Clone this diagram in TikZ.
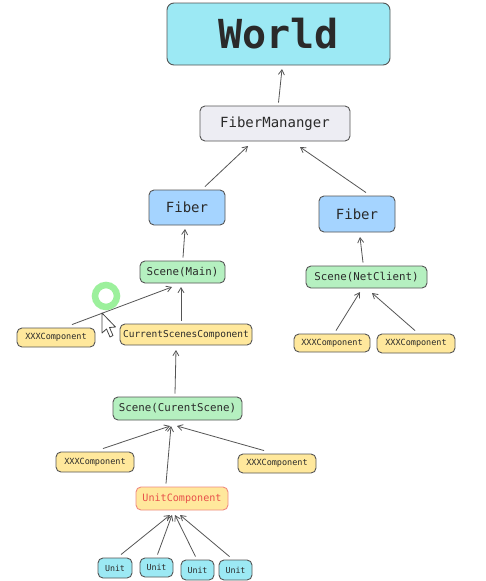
\documentclass[tikz,border=0pt]{standalone}
\usepackage{fontspec}
\setmonofont{DejaVu Sans Mono}
\usetikzlibrary{arrows.meta}
\definecolor{cy}{HTML}{9CE9F4}
\definecolor{bl}{HTML}{A5D4FF}
\definecolor{gr}{HTML}{B5F0C0}
\definecolor{ye}{HTML}{FFE89C}
\definecolor{gy}{HTML}{EDEDF3}
\definecolor{ln}{HTML}{555555}
\definecolor{rd}{HTML}{E8504A}
\definecolor{rdb}{HTML}{F08A80}
\definecolor{tx}{HTML}{2A2A2A}
\definecolor{ring}{HTML}{9CF09C}
\tikzset{
  box/.style={draw=ln, line width=0.9pt, rounded corners=5pt, inner sep=0pt, text=tx, font=\ttfamily},
  conn/.style={draw=ln, line width=0.8pt, -{Straight Barb[length=5pt,width=6pt]}},
}
\begin{document}
\begin{tikzpicture}[x=1pt,y=-1pt]
\useasboundingbox (0,0) rectangle (485,581);
\fill[white] (0,0) rectangle (485,581);
% nodes
\node[box, fill=cy, minimum width=223pt, minimum height=62pt, rounded corners=7pt, font=\ttfamily\bfseries\fontsize{40}{40}\selectfont] (world) at (278.5,34) {World};
\node[box, fill=gy, minimum width=150pt, minimum height=35pt, font=\ttfamily\fontsize{14}{14}\selectfont] (fm) at (275,123.5) {FiberMananger};
\node[box, fill=bl, minimum width=76pt, minimum height=35pt, font=\ttfamily\fontsize{14}{14}\selectfont] (fl) at (187,207.5) {Fiber};
\node[box, fill=bl, minimum width=76pt, minimum height=36pt, font=\ttfamily\fontsize{14}{14}\selectfont] (fr) at (357,214) {Fiber};
\node[box, fill=gr, minimum width=85pt, minimum height=22pt, font=\ttfamily\fontsize{10.8}{11}\selectfont] (sm) at (182.5,272) {Scene(Main)};
\node[box, fill=gr, minimum width=121pt, minimum height=22pt, font=\ttfamily\fontsize{10.8}{11}\selectfont] (sn) at (366.5,277) {Scene(NetClient)};
\node[box, fill=ye, minimum width=78pt, minimum height=19pt, font=\ttfamily\fontsize{8.5}{9}\selectfont] (x1) at (56,337.5) {XXXComponent};
\node[box, fill=ye, minimum width=132pt, minimum height=21pt, font=\ttfamily\fontsize{9.5}{10}\selectfont] (csc) at (186,334.5) {CurrentScenesComponent};
\node[box, fill=ye, minimum width=76pt, minimum height=18pt, font=\ttfamily\fontsize{8.5}{9}\selectfont] (x2) at (332,343) {XXXComponent};
\node[box, fill=ye, minimum width=78pt, minimum height=19pt, font=\ttfamily\fontsize{8.5}{9}\selectfont] (x3) at (416,343.5) {XXXComponent};
\node[box, fill=gr, minimum width=129pt, minimum height=23pt, font=\ttfamily\fontsize{10.8}{11}\selectfont] (scs) at (177.5,408.5) {Scene(CurentScene)};
\node[box, fill=ye, minimum width=78pt, minimum height=20pt, font=\ttfamily\fontsize{8.5}{9}\selectfont] (x4) at (95,462) {XXXComponent};
\node[box, fill=ye, minimum width=78pt, minimum height=19pt, font=\ttfamily\fontsize{8.5}{9}\selectfont] (x5) at (277,463.5) {XXXComponent};
\node[box, fill=ye, draw=rdb, text=rd, minimum width=92pt, minimum height=23pt, font=\ttfamily\fontsize{10.1}{11}\selectfont] (uc) at (182,498.5) {UnitComponent};
\node[box, fill=cy, minimum width=34pt, minimum height=20pt, font=\ttfamily\fontsize{8.3}{9}\selectfont] (u1) at (115,568) {Unit};
\node[box, fill=cy, minimum width=33pt, minimum height=19pt, font=\ttfamily\fontsize{8.3}{9}\selectfont] (u2) at (156.5,567.5) {Unit};
\node[box, fill=cy, minimum width=33pt, minimum height=20pt, font=\ttfamily\fontsize{8.3}{9}\selectfont] (u3) at (197.5,570) {Unit};
\node[box, fill=cy, minimum width=33pt, minimum height=20pt, font=\ttfamily\fontsize{8.3}{9}\selectfont] (u4) at (235.5,570) {Unit};
% heads
\coordinate (hw) at (282,69);
\coordinate (hfm1) at (248,146);
\coordinate (hfm2) at (300,147);
\coordinate (hfl) at (185,229);
\coordinate (hfr) at (360,237);
\coordinate (hsm1) at (172,287);
\coordinate (hsm2) at (181,287);
\coordinate (hsn1) at (360,292);
\coordinate (hsn2) at (372,293);
\coordinate (hcsc) at (176,350);
\coordinate (hscs1) at (170,426);
\coordinate (hscs2) at (171,426);
\coordinate (hscs3) at (177,426);
\coordinate (huc1) at (170,515);
\coordinate (huc2) at (172,515);
\coordinate (huc3) at (175,515);
\coordinate (huc4) at (180,515);
% connectors
\draw[conn] ([xshift=3.5pt,yshift=3pt]fm.north) -- (hw);
\draw[conn] ([xshift=18pt,yshift=3pt]fl.north) -- (hfm1);
\draw[conn] ([xshift=9pt,yshift=3pt]fr.north) -- (hfm2);
\draw[conn] ([xshift=0.5pt,yshift=3pt]sm.north) -- (hfl);
\draw[conn] ([xshift=-3.5pt,yshift=3pt]sn.north) -- (hfr);
\draw[conn] ([xshift=16pt,yshift=3pt]x1.north) -- (hsm1);
\draw[conn] ([xshift=-5pt,yshift=3pt]csc.north) -- (hsm2);
\draw[conn] ([xshift=4pt,yshift=3pt]x2.north) -- (hsn1);
\draw[conn] ([xshift=-1pt,yshift=3pt]x3.north) -- (hsn2);
\draw[conn] ([xshift=-2.5pt,yshift=3pt]scs.north) -- (hcsc);
\draw[conn] ([xshift=8pt,yshift=3pt]x4.north) -- (hscs1);
\draw[conn] ([xshift=-16pt,yshift=3pt]uc.north) -- (hscs2);
\draw[conn] ([xshift=-13pt,yshift=3pt]x5.north) -- (hscs3);
\draw[conn] ([xshift=6pt,yshift=3pt]u1.north) -- (huc1);
\draw[conn] ([xshift=1pt,yshift=3pt]u2.north) -- (huc2);
\draw[conn] ([xshift=-2pt,yshift=3pt]u3.north) -- (huc3);
\draw[conn] ([xshift=-6pt,yshift=3pt]u4.north) -- (huc4);
% screen recording ring and cursor
\draw[ring, line width=6.5pt] (106,296) circle (11pt);
\draw[ln!80!black, fill=white, line width=0.8pt, line join=round]
  (102,313) -- (102,333) -- (106.5,329) -- (110,337) -- (113,335.5) -- (109.5,327.5) -- (115.5,327) -- cycle;
\end{tikzpicture}
\end{document}
